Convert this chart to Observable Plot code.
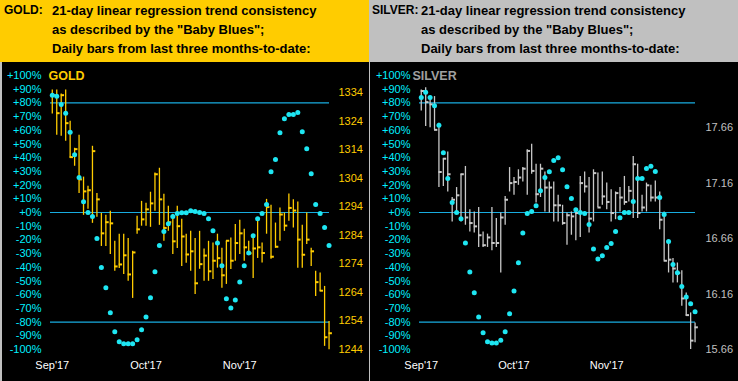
<!DOCTYPE html>
<html><head><meta charset="utf-8">
<script src="https://cdn.jsdelivr.net/npm/d3@7"></script>
<script src="https://cdn.jsdelivr.net/npm/@observablehq/plot@0.6"></script>
<style>
html,body{margin:0;padding:0;background:#000;width:738px;height:381px;overflow:hidden}
#wrap{display:flex;width:738px;height:381px}
.panel{position:relative;width:369px;height:381px}
.head{position:relative;height:62px;font:bold 13px Arial,"Liberation Sans",sans-serif;color:#000;line-height:19.3px}
.head .l{position:absolute;left:4px;top:0.5px;white-space:nowrap;font-size:12px}
.head .r{position:absolute;left:52px;top:0.5px;white-space:nowrap}
.chart{position:relative;width:369px;height:319px;background:#000}
.chart svg{display:block}
.edge{position:absolute;left:0;top:0;height:319px;background:#c0c0c0}
</style></head><body>
<div id="wrap">
  <div class="panel">
    <div class="head" style="background:#FFCC00"><div class="l">GOLD:</div><div class="r">21-day linear regression trend consistency<br>as described by the "Baby Blues";<br>Daily bars from last three months-to-date:</div></div>
    <div class="chart" id="goldChart"><div class="edge" style="width:2px"></div></div>
  </div>
  <div class="panel">
    <div class="head" style="background:#C0C0C0"><div class="l" style="left:3px">SILVER:</div><div class="r">21-day linear regression trend consistency<br>as described by the "Baby Blues";<br>Daily bars from last three months-to-date:</div></div>
    <div class="chart" id="silverChart"><div class="edge" style="width:1px"></div></div>
  </div>
</div>
<script>
const months = ["Sep'17", "Oct'17", "Nov'17"];
const monthIdx = [0, 21, 42];
const pctTicks = d3.range(-100, 101, 10);

const goldHigh = [1334.9,1334.9,1333.5,1334.9,1324.0,1314.5,1319.1,1304.4,1301.2,1315.2,
 1298.7,1291.7,1291.0,1292.4,1281.9,1284.4,1284.4,1282.9,1278.4,1290.7,
 1295.9,1295.2,1299.1,1305.8,1307.5,1298.4,1294.2,1291.4,1294.2,1289.6,
 1284.4,1285.4,1282.9,1285.4,1279.2,1281.9,1281.3,1284.4,1279.5,1281.9,
 1283.1,1287.8,1289.3,1286.1,1281.9,1282.9,1290.0,1281.3,1296.6,1294.5,
 1288.3,1293.6,1291.8,1298.5,1296.5,1295.7,1287.5,1291.8,1279.5,1271.4,
 1270.8,1266.1,1253.8];
const goldLow = [1326.5,1319.1,1318.7,1317.0,1311.0,1308.2,1298.7,1291.0,1293.1,1288.2,
 1290.3,1280.1,1280.1,1277.3,1271.4,1272.4,1270.3,1267.9,1261.9,1284.4,
 1287.2,1287.2,1286.8,1292.4,1287.5,1281.9,1285.4,1277.3,1279.4,1273.1,
 1274.2,1271.4,1263.3,1272.1,1267.9,1267.9,1268.5,1272.5,1265.5,1266.8,
 1272.0,1274.9,1277.3,1274.9,1277.0,1268.9,1275.9,1274.3,1284.4,1275.6,
 1279.5,1281.9,1285.4,1288.9,1286.6,1272.5,1272.5,1280.8,1273.1,1262.6,
 1264.4,1245.1,1243.9];
const goldClose = [1333.1,1326.8,1333.1,1323.3,1311.4,1314.2,1303.6,1299.4,1299.8,1313.5,
 1296.6,1284.7,1288.6,1288.2,1273.1,1273.8,1277.0,1270.3,1278.0,1286.1,
 1289.6,1293.1,1295.2,1305.4,1296.6,1286.6,1288.6,1281.9,1287.2,1283.6,
 1277.3,1278.4,1267.2,1273.9,1276.9,1271.4,1275.1,1276.0,1270.0,1282.1,
 1275.1,1281.3,1284.7,1279.8,1277.7,1279.4,1279.8,1277.8,1293.9,1276.5,
 1280.0,1291.3,1287.4,1293.6,1292.7,1282.5,1277.2,1282.5,1278.4,1267.6,
 1264.6,1248.3,1249.7];
const goldTrend = [85.6,84.9,78.8,72.4,58.5,42.2,25.6,7.8,0,-2.9,
 -19,-40.2,-54.9,-73.2,-87,-94.4,-95.8,-95.8,-95.8,-92.9,
 -85.6,-76.3,-62.2,-43.2,-24.1,-13.9,-8.3,-2.9,-0.7,-0.2,
 -0.2,1.2,0.7,0,-0.7,-4.6,-13.4,-22.2,-38.8,-62.9,
 -69.7,-63.9,-50.7,-38.8,-29.5,-17,-4.6,-0.7,5.9,29.8,
 38.6,58.3,68.5,71.5,71.5,73,59,46.6,28.3,5.9,
 -0.7,-11,-24.1];
const goldPriceTicks = [1244,1254,1264,1274,1284,1294,1304,1314,1324,1334];
const goldPriceDomain = [1244, 1340];

const silverHigh = [18.00,18.02,17.94,17.94,17.70,17.38,17.44,17.03,17.12,17.24,
 17.31,16.92,16.90,16.94,16.72,16.70,16.94,16.84,16.89,17.04,
 17.30,17.21,17.28,17.30,17.46,17.51,17.33,17.33,17.26,17.17,
 17.17,17.05,16.96,16.89,16.90,16.92,17.22,17.26,17.21,17.28,
 17.25,17.26,17.16,17.10,17.08,17.12,17.22,17.13,17.40,17.33,
 17.05,17.16,17.14,17.18,17.08,16.90,16.64,16.48,16.44,16.37,
 16.17,15.99,15.90];
const silverLow = [17.81,17.67,17.66,17.64,17.12,17.13,17.08,16.81,16.90,16.81,
 16.78,16.72,16.71,16.58,16.58,16.58,16.55,16.58,16.35,16.78,
 17.08,17.05,17.14,17.17,17.05,17.24,16.98,17.03,16.90,16.89,
 16.81,16.81,16.78,16.60,16.69,16.64,16.67,17.07,16.71,16.81,
 16.94,16.96,16.92,16.81,16.83,16.90,16.96,16.99,16.84,16.84,
 16.90,16.90,16.99,16.99,16.74,16.46,16.35,16.26,16.26,16.05,
 15.96,15.66,15.72];
const silverClose = [17.99,17.89,17.87,17.64,17.26,17.38,17.24,17.01,17.05,17.24,
 16.85,16.80,16.77,16.69,16.60,16.67,16.62,16.62,16.85,17.01,
 17.16,17.17,17.21,17.29,17.45,17.27,17.06,17.29,17.12,17.12,
 16.96,16.96,16.80,16.87,16.86,16.89,17.16,17.13,16.84,17.25,
 16.94,17.04,16.99,16.89,17.07,17.03,16.99,17.09,17.33,16.89,
 16.94,17.14,17.03,17.03,16.83,16.46,16.47,16.39,16.35,16.12,
 15.97,15.74,15.86];
const silverTrend = [83.9,87.8,83.9,78,63.6,43.7,24.9,7.3,0,-4.6,
 -22.2,-43.4,-58.5,-76.3,-87.8,-94.4,-95.3,-95.3,-93.3,-87,
 -73.9,-57.3,-36.6,-14.9,-0.7,0.7,4.9,15.9,25.6,29.8,
 38,40,31.2,18.8,10.2,2,0,-0.7,-8.8,-26.6,
 -33.9,-31.5,-25.6,-22.7,-13.9,-3.9,0,0,8,24.9,
 24.9,32.2,33.7,30,11,-1.5,-21.2,-38,-43.9,-54.1,
 -61.7,-66.6,-72.4];
const silverPriceTicks = [15.66,16.16,16.66,17.16,17.66];
const silverPriceDomain = [15.66, 18.13];

function chart(o) {
  const toPct = d3.scaleLinear().domain(o.priceDomain).range([-100, 100]);
  const bars = o.high.map((h, i) => ({i, h: toPct(h), l: toPct(o.low[i]), c: toPct(o.close[i])}));
  const dots = o.trend.map((v, i) => ({i, v}));
  return Plot.plot({
    width: 369, height: 319,
    marginTop: 13, marginBottom: 32, marginLeft: 50, marginRight: o.marginRight,
    style: {background: "#000", fontFamily: "Arial, 'Liberation Sans', sans-serif", fontSize: "11px", overflow: "visible"},
    x: {domain: [-0.4, 62.1], label: null},
    y: {domain: [-100, 100], label: null},
    marks: [
      Plot.ruleY([80, 0, -80], {stroke: "#18acdf", strokeWidth: 1.2}),
      Plot.ruleX(bars, {x: "i", y1: "l", y2: "h", stroke: o.barColor, strokeWidth: 1.3}),
      Plot.ruleY(bars, {y: "c", x1: "i", x2: d => d.i + 0.75, stroke: o.barColor, strokeWidth: 2}),
      Plot.dot(dots, {x: "i", y: "v", r: 2.5, fill: "#1ee6f2"}),
      Plot.axisY(pctTicks, {anchor: "left", tickSize: 0, tickPadding: 9, tickFormat: d => (d >= 0 ? "+" : "") + d + "%", fill: "#00f0ff"}),
      Plot.axisY(o.priceTicks.map(p => toPct(p)), {anchor: "right", tickSize: 0, tickPadding: o.pricePad, tickFormat: d => o.fmt(toPct.invert(d)), fill: o.priceColor}),
      Plot.axisX(monthIdx, {anchor: "bottom", tickSize: 0, tickPadding: 12, tickFormat: d => months[monthIdx.indexOf(d)], fill: "#fff"}),
      Plot.text([o.name], {text: d => d, frameAnchor: "top-left", dx: o.nameDx, lineAnchor: "middle", textAnchor: "start", fill: o.nameColor, fontSize: 12.5, fontWeight: "bold"})
    ]
  });
}

document.getElementById("goldChart").prepend(chart({
  high: goldHigh, low: goldLow, close: goldClose, trend: goldTrend,
  priceTicks: goldPriceTicks, priceDomain: goldPriceDomain, fmt: v => String(Math.round(v)),
  barColor: "#FFCC00", priceColor: "#FFCC00", name: "GOLD", nameColor: "#FFCC00", nameDx: -2,
  marginRight: 40, pricePad: 9
}));
document.getElementById("silverChart").prepend(chart({
  high: silverHigh, low: silverLow, close: silverClose, trend: silverTrend,
  priceTicks: silverPriceTicks, priceDomain: silverPriceDomain, fmt: v => v.toFixed(2),
  barColor: "#C8C8C8", priceColor: "#C0C0C0", name: "SILVER", nameColor: "#A0A0A0", nameDx: -7,
  marginRight: 43, pricePad: 10
}));
</script>
</body></html>
